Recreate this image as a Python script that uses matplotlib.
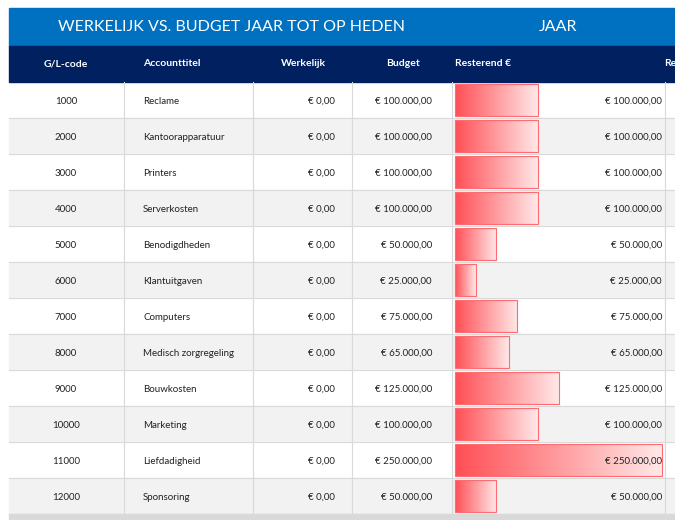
import matplotlib
matplotlib.use("Agg")
import matplotlib.pyplot as plt
import numpy as np
from matplotlib.patches import Rectangle
from matplotlib.colors import LinearSegmentedColormap

codes = ["1000","2000","3000","4000","5000","6000","7000","8000","9000","10000","11000","12000"]
titles = ["Reclame","Kantoorapparatuur","Printers","Serverkosten","Benodigdheden","Klantuitgaven",
          "Computers","Medisch zorgregeling","Bouwkosten","Marketing","Liefdadigheid","Sponsoring"]
actual = [0]*12
budget = [100000,100000,100000,100000,50000,25000,75000,65000,125000,100000,250000,50000]
remaining = [b - a for a, b in zip(actual, budget)]
headers = ["G/L-code","Accounttitel","Werkelijk","Budget","Resterend €","Re"]

def eur(v):
    s = f"{v:,.2f}".replace(",", "X").replace(".", ",").replace("X", ".")
    return "€ " + s

plt.rcParams["font.family"] = "Lato"
W, H = 675, 520
fig = plt.figure(figsize=(W/100, H/100), dpi=100)
ax = fig.add_axes([0, 0, 1, 1])
ax.set_xlim(0, W); ax.set_ylim(H, 0); ax.axis("off")

L = 9
ax.add_patch(Rectangle((L, 8), W-L, 38, color="#0070C0"))
ax.text(232, 27, "WERKELIJK VS. BUDGET JAAR TOT OP HEDEN", color="white", fontsize=11.5, ha="center", va="center")
ax.text(558, 27, "JAAR", color="white", fontsize=11.5, ha="center", va="center")
ax.add_patch(Rectangle((L, 46), W-L, 36, color="#002060"))
hx = [(66,"center"),(143,"left"),(303,"center"),(403,"center"),(455,"left"),(664,"left")]
for (x, ha), h in zip(hx, headers):
    ax.text(x, 64, h, color="white", fontsize=7.5, fontweight="bold", ha=ha, va="center")

top, rh = 82, 36
cmap = LinearSegmentedColormap.from_list("g", ["#FF4F55", "#FFE8E8"])
grad = np.linspace(0, 1, 256).reshape(1, -1)
x0 = 455; scale = 207/250000
for i in range(len(codes)):
    y = top + i*rh
    ax.add_patch(Rectangle((L, y), W-L, rh, color="white" if i % 2 == 0 else "#F2F2F2", zorder=0))
    ax.plot([L, W], [y+rh, y+rh], color="#D9D9D9", lw=0.8)
    yc = y + rh/2 + 1
    ax.text(66, yc, codes[i], fontsize=7, ha="center", va="center", color="#222")
    ax.text(143, yc, titles[i], fontsize=7, ha="left", va="center", color="#222")
    ax.text(335, yc, eur(actual[i]), fontsize=7, ha="right", va="center", color="#222")
    ax.text(432, yc, eur(budget[i]), fontsize=7, ha="right", va="center", color="#222")
    w = remaining[i]*scale
    ax.imshow(grad, cmap=cmap, aspect="auto", extent=(x0, x0+w, y+34, y+2), zorder=2)
    ax.add_patch(Rectangle((x0, y+2), w, 32, fill=False, ec="#FF6B70", lw=0.8, zorder=3))
    ax.text(662, yc, eur(remaining[i]), fontsize=7, ha="right", va="center", color="#222", zorder=4)
for x in [124, 253, 352, 452, 665]:
    ax.plot([x, x], [top, top+12*rh], color="#D9D9D9", lw=0.8, zorder=1)
ax.add_patch(Rectangle((L, top+12*rh), W-L, H-top-12*rh, color="#D9D9D9"))
ax.set_xlim(0, W); ax.set_ylim(H, 0)
fig.savefig("out.png", dpi=100)
